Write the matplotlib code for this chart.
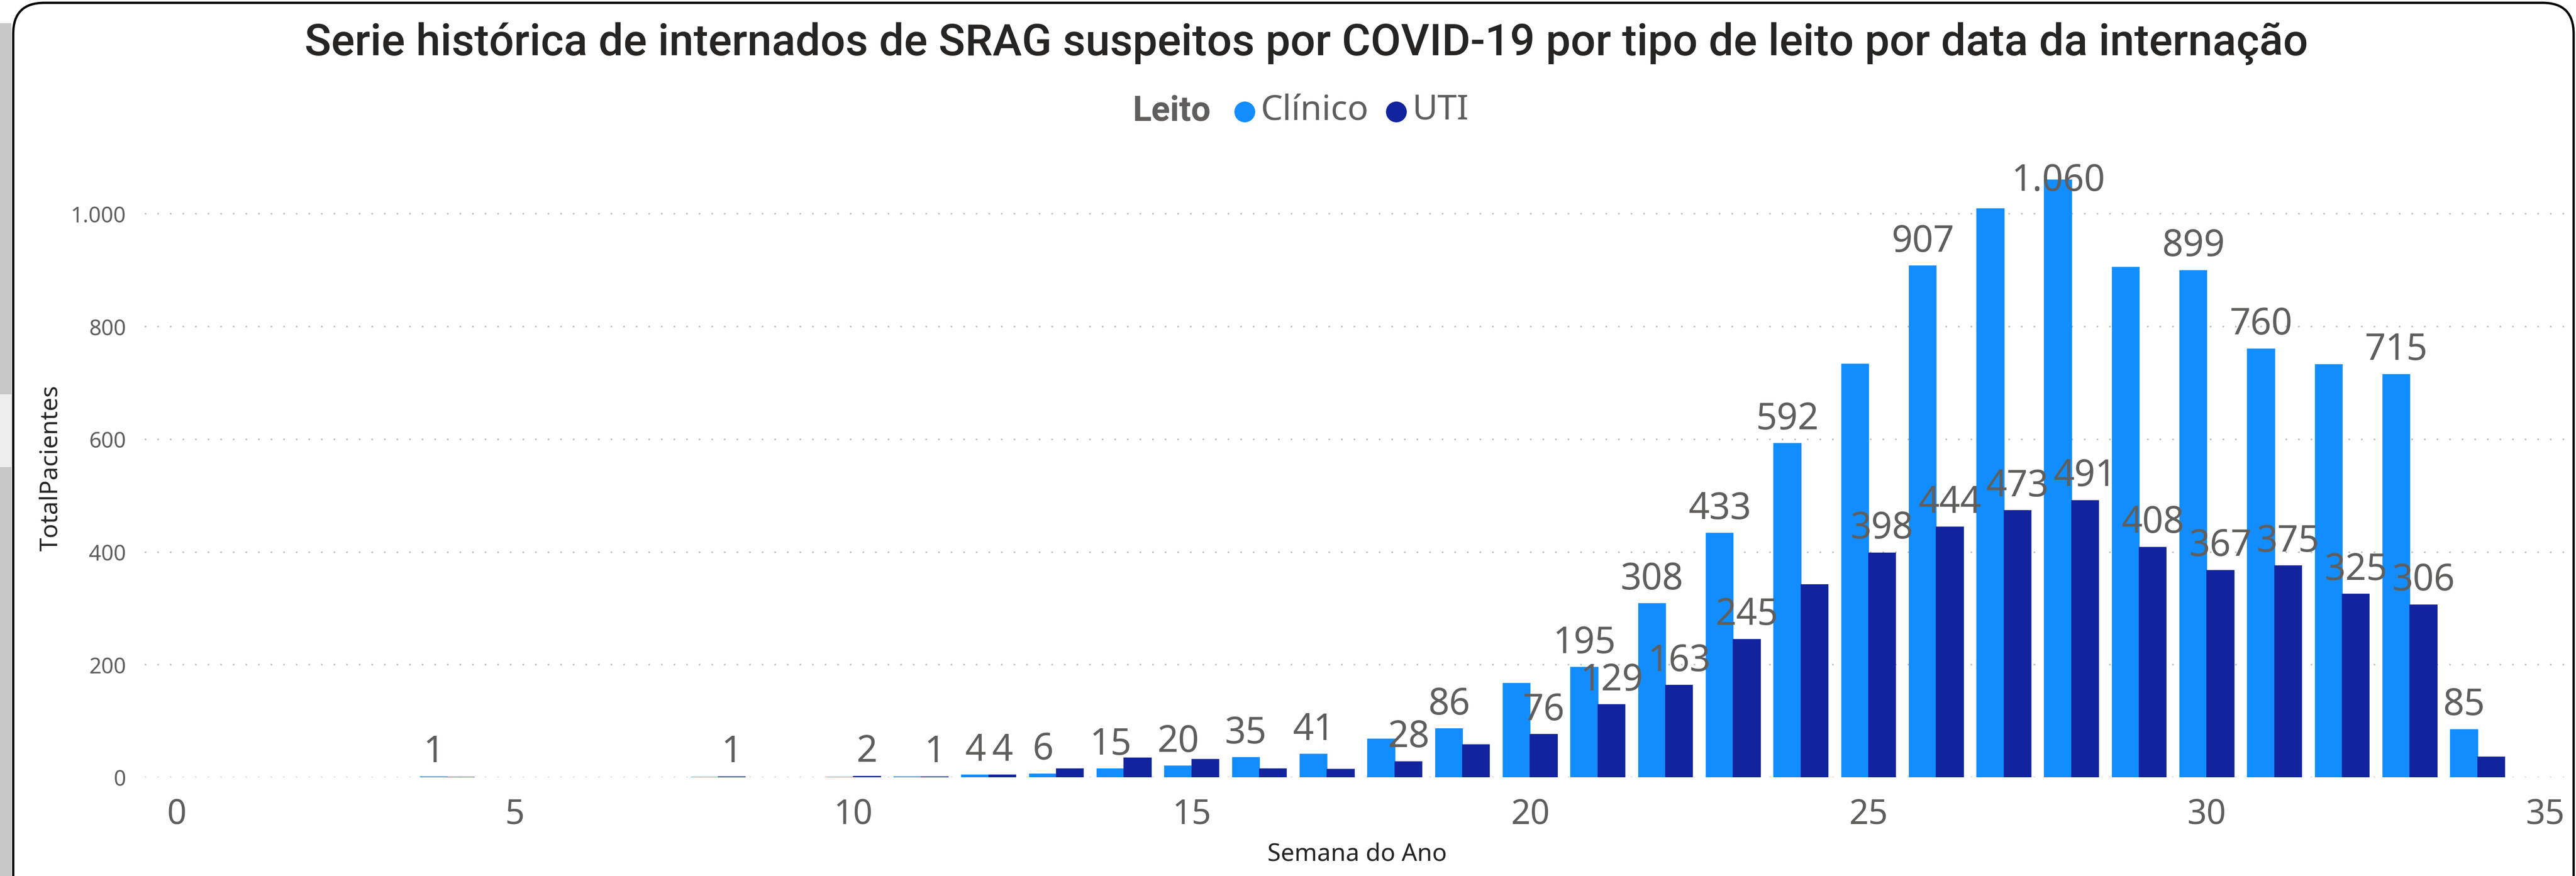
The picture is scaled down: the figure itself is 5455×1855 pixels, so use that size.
import matplotlib
matplotlib.use("Agg")
import matplotlib.pyplot as plt
from matplotlib.patches import FancyBboxPatch, Rectangle, Ellipse
import numpy as np

semanas = [4, 8, 10, 11, 12, 13, 14, 15, 16, 17, 18, 19, 20, 21, 22, 23, 24,
           25, 26, 27, 28, 29, 30, 31, 32, 33, 34]
clinico = [1, 0, 0, 1, 4, 6, 15, 20, 35, 41, 68, 86, 167, 195, 308, 433, 592,
           733, 907, 1009, 1060, 905, 899, 760, 732, 715, 85]
uti = [0, 1, 2, 1, 4, 15, 34, 32, 15, 14, 28, 58, 76, 129, 163, 245, 342,
       398, 444, 473, 491, 408, 367, 375, 325, 306, 36]
# semanas onde o rotulo aparece (Power BI esconde os que se sobrepoem)
rot_clinico = [4, 12, 13, 14, 15, 16, 17, 19, 21, 22, 23, 24, 26, 28, 30, 31, 33, 34]
rot_uti = [8, 10, 11, 12, 18, 20, 21, 22, 23, 25, 26, 27, 28, 29, 30, 31, 32, 33]
x_ticks = [0, 5, 10, 15, 20, 25, 30, 35]
y_ticks = [0, 200, 400, 600, 800, 1000]

titulo = "Serie histórica de internados de SRAG suspeitos por COVID-19 por tipo de leito por data da internação"
cor_clinico = "#118DFF"
cor_uti = "#12239E"
cinza = "#605E5C"
escuro = "#252423"

W, H = 5455, 1856
fig = plt.figure(figsize=(W / 100, H / 100), dpi=100)
fig.patch.set_facecolor("white")


def fx(px):
    return px / W


def fy(py):
    return 1 - py / H


def fmt(v):
    return f"{v:,}".replace(",", ".")


# card
shadow = Rectangle((0, 0), fx(24), fy(50), transform=fig.transFigure,
                   facecolor="#C8C8C8", edgecolor="none", zorder=0)
fig.add_artist(shadow)
notch = Rectangle((0, fy(990)), fx(24), fy(836) - fy(990), transform=fig.transFigure,
                  facecolor="#EDEDED", edgecolor="none", zorder=0)
fig.add_artist(notch)
card = FancyBboxPatch((fx(28), fy(1960)), fx(5450) - fx(28), fy(7) - fy(1960),
                      boxstyle="round,pad=0,rounding_size=0.012",
                      transform=fig.transFigure, facecolor="white",
                      edgecolor="black", linewidth=3.5, zorder=1,
                      mutation_aspect=W / H)
fig.add_artist(card)

ax = fig.add_axes([fx(306), fy(1647), fx(5433) - fx(306), (1647 - 334) / H])
ax.set_facecolor("none")
ax.set_zorder(2)

x = np.array(semanas)
bw = 0.4
ax.bar(x - bw / 2, clinico, width=bw, color=cor_clinico, edgecolor=cor_clinico,
       linewidth=1.2, zorder=3)
ax.bar(x + bw / 2, uti, width=bw, color=cor_uti, edgecolor=cor_uti,
       linewidth=1.2, zorder=3)

topo_rotulo = 1092


def rotulo(xp, v):
    if v > 1000:
        # sem espaco acima da barra: o rotulo encosta no topo da area
        ax.annotate(fmt(v), (xp, topo_rotulo), ha="center", va="top", fontsize=56,
                    color=cinza, family="Noto Sans", zorder=4)
    else:
        ax.annotate(fmt(v), (xp, v), xytext=(0, 9), textcoords="offset points",
                    ha="center", va="bottom", fontsize=56, color=cinza,
                    family="Noto Sans", zorder=4)


for s, v in zip(semanas, clinico):
    if s in rot_clinico and v > 0:
        rotulo(s - bw / 2, v)
for s, v in zip(semanas, uti):
    if s in rot_uti and v > 0:
        rotulo(s + bw / 2, v)

ax.set_xlim(-0.475, 35.30)
ax.set_ylim(0, 1100)
ax.set_xticks(x_ticks)
ax.set_xticklabels([str(t) for t in x_ticks], fontsize=52, color=cinza, family="Noto Sans")
ax.set_yticks(y_ticks)
ax.set_yticklabels([fmt(t) for t in y_ticks], fontsize=33, color=cinza, family="Noto Sans")
ax.tick_params(axis="both", length=0)
ax.tick_params(axis="x", pad=30)
ax.tick_params(axis="y", pad=28)
for sp in ax.spines.values():
    sp.set_visible(False)
ax.grid(axis="y", color="#BEBEBE", linewidth=2.4, linestyle=(0, (1, 7)), zorder=1)
ax.set_axisbelow(True)

# eixos
fig.text(fx(2874), fy(1809), "Semana do Ano", ha="center", va="center",
         fontsize=37, color=escuro, family="Noto Sans")
fig.text(fx(108), fy(991), "TotalPacientes", ha="center", va="center", rotation=90,
         fontsize=37, color=escuro, family="Noto Sans")

# titulo
t = fig.text(fx(2766), fy(92), titulo, ha="center", va="center", fontsize=70,
             color=escuro, family="Roboto", fontweight="medium")
fig.canvas.draw()
w = t.get_window_extent().width
t.set_fontsize(70 * 4245 / w)

# legenda
fig.text(fx(2398), fy(235), "Leito", ha="left", va="center", fontsize=53,
         color=cinza, family="Roboto", fontweight="bold")
fig.add_artist(Ellipse((fx(2636), fy(238)), fx(44), 44 / H, transform=fig.transFigure,
                       facecolor=cor_clinico, edgecolor="none"))
fig.text(fx(2670), fy(235), "Clínico", ha="left", va="center", fontsize=53,
         color=cinza, family="Noto Sans")
fig.add_artist(Ellipse((fx(2957), fy(238)), fx(44), 44 / H, transform=fig.transFigure,
                       facecolor=cor_uti, edgecolor="none"))
fig.text(fx(2990), fy(235), "UTI", ha="left", va="center", fontsize=53,
         color=cinza, family="Noto Sans")

fig.savefig("out.png", dpi=100)
